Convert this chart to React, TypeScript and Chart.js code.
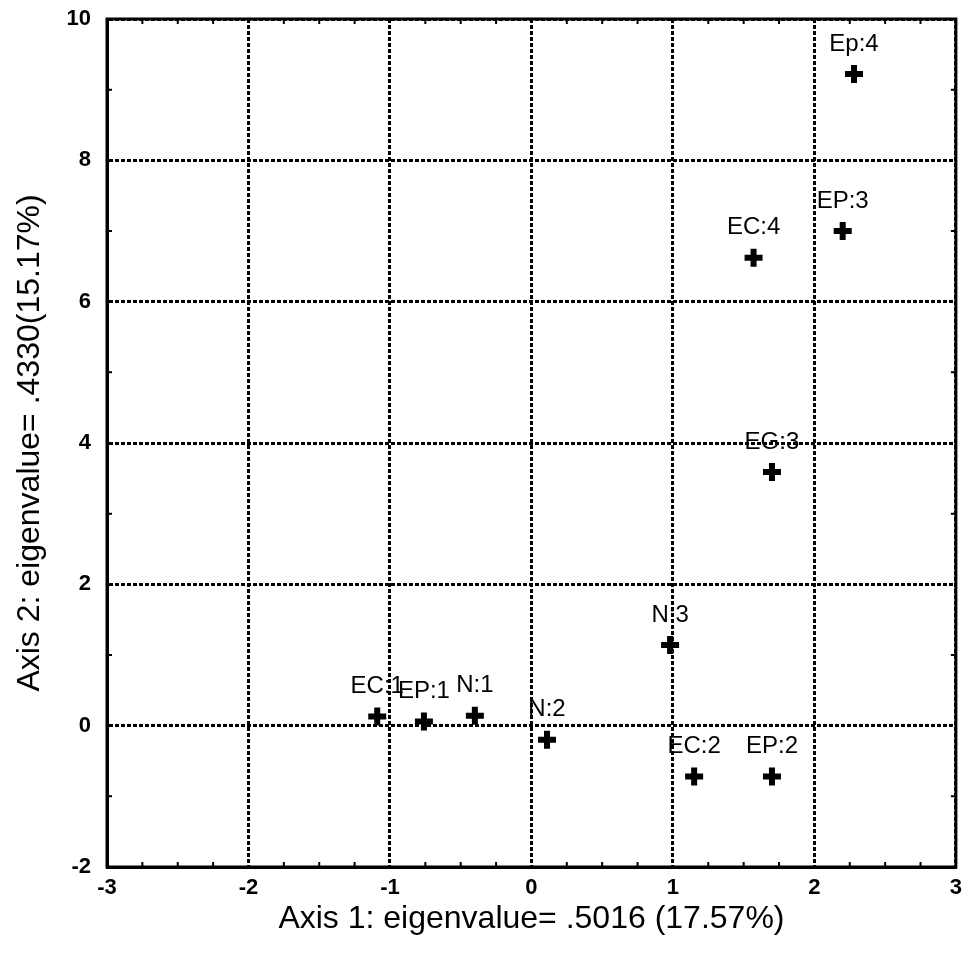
import React, { useEffect, useRef } from "react";
import { Chart, registerables } from "chart.js";

Chart.register(...registerables);

const pointLabels = ["Ep:4", "EP:3", "EC:4", "EG:3", "N:3", "EC:1", "EP:1", "N:1", "N:2", "EC:2", "EP:2"];
const axis1Values = [2.28, 2.2, 1.57, 1.7, 0.98, -1.09, -0.76, -0.4, 0.11, 1.15, 1.7];
const axis2Values = [9.22, 7.0, 6.62, 3.59, 1.14, 0.13, 0.06, 0.14, -0.2, -0.72, -0.72];

const xTitle = "Axis 1: eigenvalue= .5016 (17.57%)";
const yTitle = "Axis 2: eigenvalue= .4330(15.17%)";

const FONT = "'Liberation Sans', Arial, sans-serif";

const framePlugin = {
  id: "frameAndMinor",
  afterDatasetsDraw(chart: any) {
    const { ctx, chartArea } = chart;
    const xs = chart.scales.x;
    const ys = chart.scales.y;
    ctx.save();
    ctx.strokeStyle = "#000";
    ctx.lineWidth = 2;
    for (let v = xs.min; v <= xs.max + 1e-9; v += 0.25) {
      if (Math.abs(v - Math.round(v)) < 1e-6) continue;
      const px = xs.getPixelForValue(v);
      ctx.beginPath();
      ctx.moveTo(px, chartArea.bottom);
      ctx.lineTo(px, chartArea.bottom - 5);
      ctx.moveTo(px, chartArea.top);
      ctx.lineTo(px, chartArea.top + 5);
      ctx.stroke();
    }
    for (let v = ys.min; v <= ys.max + 1e-9; v += 1) {
      if (Math.abs(v / 2 - Math.round(v / 2)) < 1e-6) continue;
      const py = ys.getPixelForValue(v);
      ctx.beginPath();
      ctx.moveTo(chartArea.left, py);
      ctx.lineTo(chartArea.left + 5, py);
      ctx.moveTo(chartArea.right, py);
      ctx.lineTo(chartArea.right - 5, py);
      ctx.stroke();
    }
    ctx.lineWidth = 3;
    ctx.strokeRect(chartArea.left, chartArea.top, chartArea.right - chartArea.left, chartArea.bottom - chartArea.top);
    ctx.fillStyle = "#000";
    ctx.font = `24px ${FONT}`;
    ctx.textAlign = "center";
    ctx.textBaseline = "middle";
    const meta = chart.getDatasetMeta(0);
    meta.data.forEach((el: any, i: number) => {
      ctx.fillText(pointLabels[i], el.x, el.y - 30);
    });
    ctx.restore();
  },
};

export default function App() {
  const ref = useRef<HTMLCanvasElement | null>(null);
  useEffect(() => {
    if (!ref.current) return;
    const data = axis1Values.map((x, i) => ({ x, y: axis2Values[i] }));
    const chart = new Chart(ref.current, {
      type: "scatter",
      data: {
        datasets: [
          {
            data,
            pointStyle: "cross",
            pointRadius: 9,
            pointBorderWidth: 6,
            borderColor: "#000",
            backgroundColor: "#000",
          },
        ],
      },
      options: {
        animation: false,
        responsive: false,
        maintainAspectRatio: false,
        layout: { autoPadding: false, padding: { top: 19, right: 5, left: 0, bottom: 0 } },
        plugins: { legend: { display: false }, tooltip: { enabled: false } },
        scales: {
          x: {
            type: "linear",
            min: -3,
            max: 3,
            afterFit: (s: any) => {
              s.height = 97;
            },
            ticks: {
              stepSize: 1,
              color: "#000",
              padding: 0,
              font: { family: FONT, size: 22, weight: "bold" },
            },
            grid: {
              color: "#000",
              lineWidth: 3,
              drawTicks: true,
              tickLength: 8,
              tickColor: "rgba(0,0,0,0)",
            },
            border: { display: true, color: "#000", width: 3, dash: [4, 2] },
            title: {
              display: true,
              text: xTitle,
              color: "#000",
              font: { family: FONT, size: 32 },
              padding: { top: 0, bottom: 26 },
            },
          },
          y: {
            type: "linear",
            min: -2,
            max: 10,
            afterFit: (s: any) => {
              s.width = 107;
            },
            ticks: {
              stepSize: 2,
              color: "#000",
              padding: 0,
              font: { family: FONT, size: 22, weight: "bold" },
            },
            grid: {
              color: "#000",
              lineWidth: 3,
              drawTicks: true,
              tickLength: 16,
              tickColor: "rgba(0,0,0,0)",
            },
            border: { display: true, color: "#000", width: 3, dash: [4, 2] },
            title: {
              display: true,
              text: yTitle,
              color: "#000",
              font: { family: FONT, size: 32 },
              padding: { top: 11, bottom: 0 },
            },
          },
        },
      },
      plugins: [framePlugin],
    });
    return () => chart.destroy();
  }, []);
  return (
    <div style={{ position: "fixed", left: 0, top: 0, width: 962, height: 964, background: "#fff" }}>
      <canvas ref={ref} width={962} height={964} style={{ width: 962, height: 964 }} />
    </div>
  );
}
